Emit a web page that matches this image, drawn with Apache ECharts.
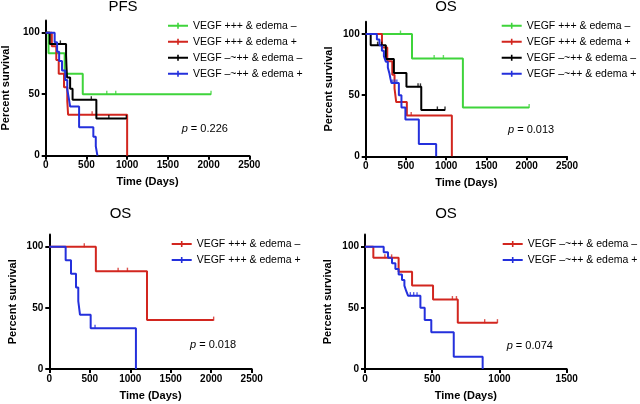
<!DOCTYPE html>
<html><head><meta charset="utf-8">
<script src="https://cdn.jsdelivr.net/npm/echarts@6/dist/echarts.min.js"></script>
<style>html,body{margin:0;padding:0;background:#fff}#c{width:640px;height:404px}</style>
</head><body><div id="c"></div>
<script>
// ---------- data (days, percent survival) ----------
const xTicksLong = [0, 500, 1000, 1500, 2000, 2500];
const xTicksShort = [0, 500, 1000, 1500];
const yTicks = [0, 50, 100];
const yMax = 110;

const groupLabels = ['VEGF +++ & edema –', 'VEGF +++ & edema +', 'VEGF –~++ & edema –', 'VEGF –~++ & edema +'];
const panelTitles = ['PFS', 'OS', 'OS', 'OS'];
const pValues = ['0.226', '0.013', '0.018', '0.074'];

// PFS
const pfsHiNeg = [[0,100],[35,83.3],[233,66.7],[455,50],[2030,50]];
const pfsHiNegCens = [[750,50],[860,50],[2030,50]];
const pfsHiPos = [[0,100],[75,88.9],[130,77.8],[160,66.7],[225,55.6],[265,44.4],[275,33.3],[1000,0]];
const pfsHiPosCens = [[570,33.3]];
const pfsLoNeg = [[0,100],[50,90.9],[250,81.8],[255,72.7],[262,63.6],[300,54.5],[330,45.5],[622,30.3],[990,30.3]];
const pfsLoNegCens = [[180,90.9],[560,45.5],[775,30.3],[990,30.3]];
const pfsLoPos = [[0,100],[110,92.3],[140,84.6],[165,76.9],[200,69.2],[240,61.5],[265,53.8],[285,46.2],[300,40],[410,23.1],[585,15.4],[615,7.7],[635,0]];
const pfsLoPosCens = [];

// OS
const osHiNeg = [[0,100],[575,80],[1207,40],[2030,40]];
const osHiNegCens = [[432,100],[850,80],[965,80],[2030,40]];
const osHiPos = [[0,100],[202,88.9],[268,77.8],[330,66.7],[358,55.6],[379,44.4],[511,33.3],[1070,0]];
const osHiPosCens = [[565,33.3]];
const osLoNeg = [[0,100],[62,90.9],[250,79.5],[350,68.2],[506,56.8],[690,37.9],[985,37.9]];
const osLoNegCens = [[148,90.9],[198,90.9],[650,56.8],[680,56.8],[890,37.9],[985,37.9]];
const osLoPos = [[0,100],[139,95.5],[171,90.9],[201,86.4],[226,81.8],[250,77.3],[275,72.7],[293,68.2],[307,63.6],[320,60],[412,50],[444,40],[493,30],[660,10],[875,0]];
const osLoPosCens = [[337,60],[362,60],[387,60]];

// ---------- style / layout ----------
const FONT = '"Liberation Sans", Arial, Helvetica, sans-serif';
const GREEN = '#3fd43b', RED = '#d2261f', BLACK = '#000000', BLUE = '#2430dc';
const ICON = 'path://M0,2H20V4H0Z M9.2,0H10.8V6H9.2Z';

const panels = [
  { grid:{left:45.7, top:20.4, width:203.6, height:135.3}, xTicks:xTicksLong, titlePos:[123,7], pPos:[181.7,129.3], legendPos:[168,18.7], yGap:34,
    curves:[
      {label:groupLabels[0], data:pfsHiNeg, cens:pfsHiNegCens, color:GREEN},
      {label:groupLabels[1], data:pfsHiPos, cens:pfsHiPosCens, color:RED},
      {label:groupLabels[2], data:pfsLoNeg, cens:pfsLoNegCens, color:BLACK},
      {label:groupLabels[3], data:pfsLoPos, cens:pfsLoPosCens, color:BLUE}]},
  { grid:{left:365.7, top:21.8, width:201.3, height:134.5}, xTicks:xTicksLong, titlePos:[446,7], pPos:[508,129.7], legendPos:[501.7,18.7], yGap:31.5,
    curves:[
      {label:groupLabels[0], data:osHiNeg, cens:osHiNegCens, color:GREEN},
      {label:groupLabels[1], data:osHiPos, cens:osHiPosCens, color:RED},
      {label:groupLabels[2], data:osLoNeg, cens:osLoNegCens, color:BLACK},
      {label:groupLabels[3], data:osLoPos, cens:osLoPosCens, color:BLUE}]},
  { grid:{left:49.3, top:234.5, width:202.4, height:134.5}, xTicks:xTicksLong, titlePos:[120.5,214], pPos:[190,345], legendPos:[171.7,237], yGap:31.3,
    curves:[
      {label:groupLabels[0], data:osHiNeg, cens:osHiNegCens, color:RED},
      {label:groupLabels[1], data:osHiPos, cens:osHiPosCens, color:BLUE}]},
  { grid:{left:365, top:234.5, width:201.7, height:134.5}, xTicks:xTicksShort, titlePos:[446,214], pPos:[506.7,345.7], legendPos:[502.7,237], yGap:31.5,
    curves:[
      {label:groupLabels[2], data:osLoNeg, cens:osLoNegCens, color:RED},
      {label:groupLabels[3], data:osLoPos, cens:osLoPosCens, color:BLUE}]}
];

const option = {
  animation:false,
  backgroundColor:'#fff',
  textStyle:{fontFamily:FONT},
  grid:[], xAxis:[], yAxis:[], series:[], legend:[], title:[]
};

const axisBase = {
  axisLine:{show:true, onZero:false, lineStyle:{color:'#000', width:2}},
  splitLine:{show:false},
  nameLocation:'middle',
  nameTextStyle:{fontFamily:FONT, fontWeight:'bold', fontSize:11, color:'#000'}
};
const plain = v => String(v);

panels.forEach((p, i) => {
  option.grid.push(Object.assign({outerBoundsMode:'none', containLabel:false}, p.grid));
  option.xAxis.push(Object.assign({}, axisBase, {
    gridIndex:i, type:'value', min:p.xTicks[0], max:p.xTicks[p.xTicks.length-1],
    interval:p.xTicks[1]-p.xTicks[0], name:'Time (Days)', nameGap:21,
    axisTick:{show:true, length:4, lineStyle:{color:'#000', width:2}, customValues:p.xTicks},
    axisLabel:{customValues:p.xTicks, formatter:plain, margin:5, fontFamily:FONT, fontWeight:'bold', fontSize:10, color:'#000'}
  }));
  option.yAxis.push(Object.assign({}, axisBase, {
    gridIndex:i, type:'value', min:0, max:yMax, interval:50,
    name:'Percent survival', nameGap:p.yGap, nameRotate:90,
    axisTick:{show:true, length:4, lineStyle:{color:'#000', width:2}, customValues:yTicks},
    axisLabel:{customValues:yTicks, formatter:plain, margin:6, fontFamily:FONT, fontWeight:'bold', fontSize:10, color:'#000'}
  }));
  const legendData = [];
  p.curves.forEach((c, j) => {
    const nm = i + '|' + c.label;
    legendData.push({name:nm, icon:ICON, itemStyle:{color:c.color, borderWidth:0}});
    option.series.push({
      type:'line', name:nm, xAxisIndex:i, yAxisIndex:i, data:c.data, step:'end',
      symbol:'none', lineStyle:{color:c.color, width:2}, itemStyle:{color:c.color}, z:2+j*0.01
    });
    if (c.cens.length) option.series.push({
      type:'scatter', name:'cens' + i + '_' + j, xAxisIndex:i, yAxisIndex:i, data:c.cens,
      symbol:'rect', symbolSize:[1.4,4], symbolOffset:[0,-1.5], itemStyle:{color:c.color}, z:3, silent:true
    });
  });
  option.legend.push({
    orient:'vertical', left:p.legendPos[0], top:p.legendPos[1], padding:0,
    itemWidth:20, itemHeight:6, itemGap:2, selectedMode:false, data:legendData,
    formatter: n => n.split('|')[1],
    textStyle:{fontFamily:FONT, fontSize:10.5, color:'#000', lineHeight:14}
  });
  option.title.push({
    text:panelTitles[i], left:p.titlePos[0], top:p.titlePos[1], textAlign:'center', textVerticalAlign:'middle', padding:0,
    textStyle:{fontFamily:FONT, fontSize:15, fontWeight:'normal', color:'#000'}
  });
  option.title.push({
    text:'{i|p} = ' + pValues[i], left:p.pPos[0], top:p.pPos[1], textVerticalAlign:'middle', padding:0,
    textStyle:{fontFamily:FONT, fontSize:11, fontWeight:'normal', color:'#000',
      rich:{i:{fontFamily:FONT, fontStyle:'italic', fontSize:11, color:'#000'}}}
  });
});

const chart = echarts.init(document.getElementById('c'), null, {renderer:'canvas'});
chart.setOption(option);
</script>
</body></html>
